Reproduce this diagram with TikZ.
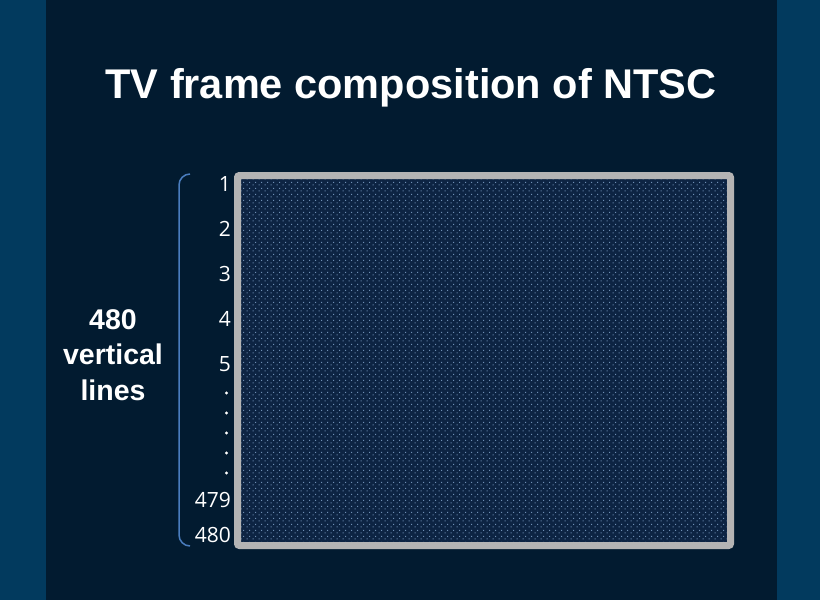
\documentclass[tikz,border=0pt]{standalone}
\usepackage{fontspec}
\setmainfont{Open Sans}
\newfontfamily\titlefont{Liberation Sans}
\usetikzlibrary{positioning,patterns.meta}
\definecolor{sideband}{HTML}{023A5E}
\definecolor{backdark}{HTML}{021B30}
\definecolor{screenblue}{HTML}{0D2443}
\definecolor{dotblue}{HTML}{6F8FB4}
\definecolor{framegray}{HTML}{B4B4B4}
\definecolor{bracecol}{HTML}{4A7DBE}
\tikzdeclarepattern{
  name=screendots,
  type=uncolored,
  bounding box={(0pt,0pt) and (6pt,6pt)},
  tile size={(6pt,6pt)},
  code={
    \pgfpathrectangle{\pgfpoint{0.6pt}{0.6pt}}{\pgfpoint{1.2pt}{1.2pt}}
    \pgfpathrectangle{\pgfpoint{3.6pt}{3.6pt}}{\pgfpoint{1.2pt}{1.2pt}}
    \pgfusepath{fill}
  }
}
\tikzset{
  linenum/.style={anchor=east, text=white, font=\fontsize{21}{24}\selectfont, inner sep=0pt},
  linedot/.style={fill=white, circle, inner sep=0pt, minimum size=3.2pt},
}
\begin{document}
\begin{tikzpicture}[x=1pt,y=-1pt]
			% background
			\useasboundingbox (0,0) rectangle (820,600);
			\fill[sideband] (0,0) rectangle (820,600);
			\fill[backdark] (46,0) rectangle (777,600);

			% title
			\node[text=white, font=\titlefont\bfseries\fontsize{41.5}{47}\selectfont] (title) at (411,88) {TV frame composition of NTSC};

			% screen
			\fill[screenblue] (240,178) rectangle (728,543);
			\fill[pattern={screendots}, pattern color=dotblue] (240,178) rectangle (728,543);
			\node[draw=framegray, line width=7pt, rounded corners=2pt, minimum width=493pt, minimum height=370pt, inner sep=0pt] (frame) at (484,360.5) {};

			% line numbers
			\node[linenum] (n1) at (231,184) {1};
			\node[linenum] (n2) at (231,229) {2};
			\node[linenum] (n3) at (231,274) {3};
			\node[linenum] (n4) at (231,319) {4};
			\node[linenum] (n5) at (231,364) {5};
			\foreach \y [count=\i] in {393,413,433,453,473}
				\node[linedot] (d\i) at (226.5,\y) {};
			\node[linenum] (n479) at (231,500) {479};
			\node[linenum] (n480) at (231,535) {480};

			% brace
			\coordinate (btop) at (190,174);
			\coordinate (bbot) at (190,546);
			\draw[bracecol, line width=1.5pt] (btop) arc[start angle=270, end angle=180, radius=11] -- ++(0,350) arc[start angle=180, end angle=90, radius=11];

			% side label
			\node[text=white, align=center, font=\titlefont\bfseries\fontsize{28.5}{35.5}\selectfont] (count) at (113,355) {480\\vertical\\lines};
		\end{tikzpicture}
\end{document}
